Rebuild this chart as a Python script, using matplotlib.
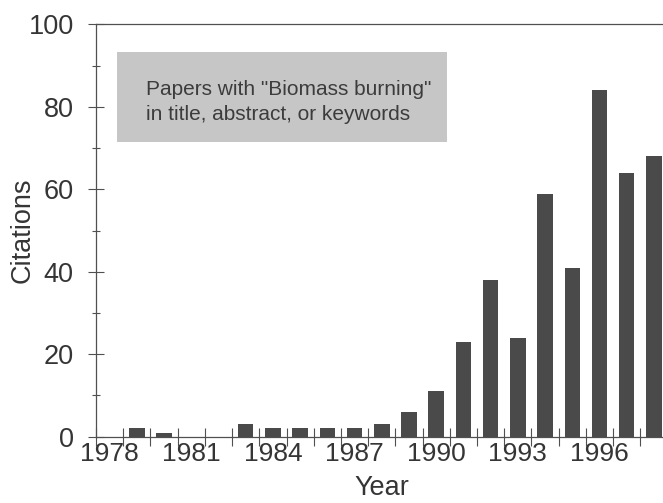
import matplotlib
matplotlib.use("Agg")
import matplotlib.pyplot as plt
from matplotlib.ticker import MultipleLocator

years = list(range(1978, 1999))
citations = [0, 2, 1, 0, 0, 3, 2, 2, 2, 2, 3, 6, 11, 23, 38, 24, 59, 41, 84, 64, 68]
year_labels = [1978, 1981, 1984, 1987, 1990, 1993, 1996]
y_ticks = [0, 20, 40, 60, 80, 100]
note_lines = ['Papers with "Biomass burning"', "in title, abstract, or keywords"]

plt.rcParams["font.family"] = ["Liberation Sans", "DejaVu Sans"]

fig = plt.figure(figsize=(6.63, 5.03), dpi=100)
ax = fig.add_axes([0.1448, 0.1318, 0.862, 0.8195])

ink = "#505050"
text_ink = "#353535"
ax.bar(years, citations, width=0.57, color="#4a4a4a", zorder=3)

ax.set_xlim(1977.5, 1998.5)
ax.set_ylim(0, 100)

# ticks sit on the bin edges, year labels sit on the bar centres
ax.set_xticks([y - 0.5 for y in years] + [1998.5])
ax.set_xticklabels([])
ax.set_xticks(year_labels, minor=True)
ax.set_xticklabels([str(y) for y in year_labels], minor=True)
ax.tick_params(axis="x", which="major", direction="inout", length=13, width=0.8, color=ink)
ax.tick_params(axis="x", which="minor", length=0, pad=4, labelsize=19, labelcolor=text_ink)

ax.set_yticks(y_ticks)
ax.yaxis.set_minor_locator(MultipleLocator(10))
ax.tick_params(axis="y", which="major", direction="inout", length=12, width=0.8, color=ink,
               labelsize=19.5, labelcolor=text_ink, pad=10)
ax.tick_params(axis="y", which="minor", direction="inout", length=6, width=0.8, color=ink)

for side in ["left", "bottom", "top"]:
    ax.spines[side].set_color(ink)
    ax.spines[side].set_linewidth(0.9)
ax.spines["right"].set_visible(False)

ax.set_ylabel("Citations", fontsize=19.5, color=text_ink)
ax.yaxis.set_label_coords(-0.105, 0.5)
ax.set_xlabel("Year", fontsize=19.5, color=text_ink)
ax.xaxis.set_label_coords(0.5, -0.093)

box = plt.Rectangle((0.0367, 0.7157), 0.5775, 0.218, transform=ax.transAxes,
                    facecolor="#c6c6c6", edgecolor="none", zorder=2)
ax.add_patch(box)
for line, yb in zip(note_lines, [0.829, 0.768]):
    ax.text(0.0875, yb, line, transform=ax.transAxes, fontsize=15, color="#3c3c3c",
            va="baseline", ha="left", zorder=4)

fig.savefig("out.png", dpi=100)
